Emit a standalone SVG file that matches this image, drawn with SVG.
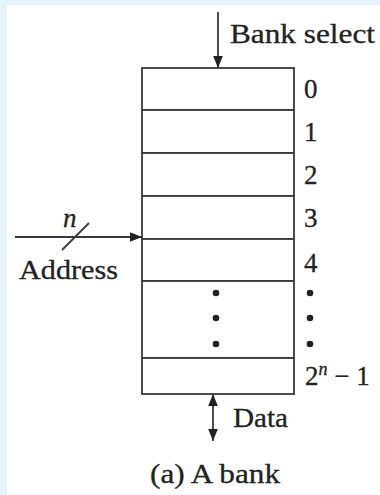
<svg xmlns="http://www.w3.org/2000/svg" width="380" height="495" viewBox="0 0 380 495">
<style>
text{font-family:"Liberation Serif","Times New Roman",serif;font-size:27px;fill:#222;stroke:#222;stroke-width:0.3}
.ln{stroke:#3a3a3a;stroke-width:1.8;fill:none}
.row{fill:#fff;stroke:#3a3a3a;stroke-width:1.8}
.dot{fill:#222}
</style>
<defs>
<marker id="ah2" viewBox="0 0 10 10" refX="10" refY="5" markerWidth="12" markerHeight="12" markerUnits="userSpaceOnUse" orient="auto-start-reverse">
<path d="M0,1 L10,5 L0,9 Z" fill="#222"/>
</marker>
</defs>
<rect width="380" height="495" fill="#e4f3fc"/>
<rect x="7" y="5" width="373" height="490" fill="#fff"/>
<g id="bank">
<rect class="row" x="142" y="68" width="152" height="42"/>
<rect class="row" x="142" y="110" width="152" height="43"/>
<rect class="row" x="142" y="153" width="152" height="43"/>
<rect class="row" x="142" y="196" width="152" height="43"/>
<rect class="row" x="142" y="239" width="152" height="42"/>
<rect class="row" x="142" y="281" width="152" height="77"/>
<rect class="row" x="142" y="358" width="152" height="36"/>
<circle class="dot" cx="216" cy="293" r="3.3"/>
<circle class="dot" cx="216" cy="318" r="3.3"/>
<circle class="dot" cx="216" cy="344" r="3.3"/>
</g>
<g id="labels">
<text x="304" y="98">0</text>
<text x="304" y="141">1</text>
<text x="304" y="184">2</text>
<text x="304" y="227">3</text>
<text x="304" y="272">4</text>
<circle class="dot" cx="310" cy="293" r="3.3"/>
<circle class="dot" cx="310" cy="318" r="3.3"/>
<circle class="dot" cx="310" cy="344" r="3.3"/>
<text x="305" y="385">2<tspan font-style="italic" font-size="18" dy="-10">n</tspan><tspan dy="10"> − 1</tspan></text>
</g>
<g id="connectors">
<line class="ln" x1="218" y1="12" x2="218" y2="68" marker-end="url(#ah2)"/>
<line class="ln" x1="15" y1="237" x2="142" y2="237" marker-end="url(#ah2)"/>
<line class="ln" x1="62" y1="250" x2="89" y2="223"/>
<line class="ln" x1="213" y1="394" x2="213" y2="441" marker-start="url(#ah2)" marker-end="url(#ah2)"/>
</g>
<g id="texts">
<text x="230" y="43" textLength="145" lengthAdjust="spacingAndGlyphs">Bank select</text>
<text x="63" y="227" font-style="italic" font-size="22">n</text>
<text x="19" y="279" textLength="99" lengthAdjust="spacingAndGlyphs">Address</text>
<text x="233" y="427" textLength="55" lengthAdjust="spacingAndGlyphs">Data</text>
<text x="150" y="483" textLength="130" lengthAdjust="spacingAndGlyphs">(a) A bank</text>
</g>
</svg>
